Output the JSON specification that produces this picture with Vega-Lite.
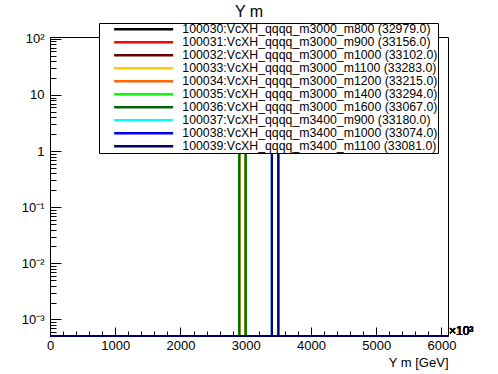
{
  "$schema": "https://vega.github.io/schema/vega-lite/v6.json",
  "autosize": {"type": "none"},
  "padding": {"left": 50, "top": 37, "right": 50, "bottom": 38},
  "width": 398,
  "height": 299,
  "background": "white",
  "config": {
    "font": "Liberation Sans",
    "view": {"stroke": "black", "strokeWidth": 1},
    "axis": {"grid": false, "labelColor": "black", "domainColor": "black", "tickColor": "black", "labelFontSize": 13, "labelOverlap": false, "labelFlush": false}
  },
  "title": {"text": "Y m", "fontSize": 16, "fontWeight": "normal", "anchor": "middle", "frame": "group", "baseline": "alphabetic", "offset": 7, "dy": 17, "color": "black"},
  "resolve": {"scale": {"x": "independent", "y": "independent"}, "axis": {"x": "independent", "y": "independent"}},
  "data": {"values": [
    {"s": "100030:VcXH_qqqq_m3000_m800 (32979.0)", "lo": 2900, "hi": 3000, "v": 1},
    {"s": "100031:VcXH_qqqq_m3000_m900 (33156.0)", "lo": 2900, "hi": 3000, "v": 1},
    {"s": "100032:VcXH_qqqq_m3000_m1000 (33102.0)", "lo": 2900, "hi": 3000, "v": 1},
    {"s": "100033:VcXH_qqqq_m3000_m1100 (33283.0)", "lo": 2900, "hi": 3000, "v": 1},
    {"s": "100034:VcXH_qqqq_m3000_m1200 (33215.0)", "lo": 2900, "hi": 3000, "v": 1},
    {"s": "100035:VcXH_qqqq_m3000_m1400 (33294.0)", "lo": 2900, "hi": 3000, "v": 1},
    {"s": "100036:VcXH_qqqq_m3000_m1600 (33067.0)", "lo": 2900, "hi": 3000, "v": 1},
    {"s": "100037:VcXH_qqqq_m3400_m900 (33180.0)", "lo": 3400, "hi": 3500, "v": 1},
    {"s": "100038:VcXH_qqqq_m3400_m1000 (33074.0)", "lo": 3400, "hi": 3500, "v": 1},
    {"s": "100039:VcXH_qqqq_m3400_m1100 (33081.0)", "lo": 3400, "hi": 3500, "v": 1}
  ]},
  "layer": [
    {
      "mark": {"type": "rect", "filled": false, "strokeWidth": 2},
      "encoding": {
        "x": {"field": "lo", "type": "quantitative",
          "scale": {"domain": [0, 6100], "nice": false, "zero": false},
          "axis": {
            "orient": "bottom",
            "values": [0, 1000, 2000, 3000, 4000, 5000, 6000],
            "format": "d",
            "tickSize": -9,
            "labelPadding": 12,
            "title": "Y m [GeV]",
            "titleAnchor": "end",
            "titleFontSize": 13,
            "titleFontWeight": "normal",
            "titleColor": "black",
            "titlePadding": 4
          }
        },
        "x2": {"field": "hi"},
        "y": {"field": "v", "type": "quantitative",
          "scale": {"type": "log", "domain": [0.000508, 108], "nice": false},
          "axis": {
            "orient": "left",
            "values": [0.001, 0.01, 0.1, 1, 10, 100],
            "labelExpr": "datum.value == 100 ? '10\u00b2' : datum.value == 10 ? '10' : datum.value == 1 ? '1' : datum.value == 0.1 ? '10\u207b\u00b9' : datum.value == 0.01 ? '10\u207b\u00b2' : '10\u207b\u00b3'",
            "tickSize": -11,
            "labelPadding": 17,
            "title": null
          }
        },
        "y2": {"datum": 0.000508},
        "color": {"field": "s", "type": "nominal",
          "scale": {
            "domain": ["100030:VcXH_qqqq_m3000_m800 (32979.0)", "100031:VcXH_qqqq_m3000_m900 (33156.0)", "100032:VcXH_qqqq_m3000_m1000 (33102.0)", "100033:VcXH_qqqq_m3000_m1100 (33283.0)", "100034:VcXH_qqqq_m3000_m1200 (33215.0)", "100035:VcXH_qqqq_m3000_m1400 (33294.0)", "100036:VcXH_qqqq_m3000_m1600 (33067.0)", "100037:VcXH_qqqq_m3400_m900 (33180.0)", "100038:VcXH_qqqq_m3400_m1000 (33074.0)", "100039:VcXH_qqqq_m3400_m1100 (33081.0)"],
            "range": ["#000000", "#ff0000", "#660000", "#ffcc00", "#ff6600", "#00ff00", "#006600", "#00ffff", "#0000ff", "#000066"]
          },
          "legend": {
            "orient": "none",
            "legendX": 49,
            "legendY": -14,
            "title": null,
            "padding": 0,
            "fillColor": "white",
            "strokeColor": "black",
            "symbolType": "M2.25,0H17",
            "symbolSize": 64,
            "symbolStrokeWidth": 2.5,
            "symbolFillColor": "transparent",
            "labelOffset": 71,
            "labelFontSize": 12.3,
            "labelColor": "black",
            "labelLimit": 0,
            "rowPadding": 0,
            "labelBaseline": "middle"
          }
        }
      }
    },
    {
      "mark": {"type": "rule", "color": "#000066", "strokeWidth": 2},
      "encoding": {"y": {"datum": 0.000508, "type": "quantitative",
          "scale": {"type": "log", "domain": [0.000508, 108], "nice": false},
          "axis": {
            "orient": "left",
            "values": [0.0006,0.0007,0.0008,0.0009,0.002,0.003,0.004,0.005,0.006,0.007,0.008,0.009,0.02,0.03,0.04,0.05,0.06,0.07,0.08,0.09,0.2,0.3,0.4,0.5,0.6,0.7,0.8,0.9,2,3,4,5,6,7,8,9,20,30,40,50,60,70,80,90],
            "labels": false,
            "domain": false,
            "tickSize": -6,
            "title": null
          }}}
    },
    {
      "mark": {"type": "text", "text": "\u00d710\u00b3", "align": "left", "baseline": "alphabetic", "fontSize": 12, "dx": 1, "dy": -1, "color": "black"},
      "encoding": {
        "x": {"datum": 6100, "type": "quantitative",
          "scale": {"domain": [0, 6100], "nice": false, "zero": false},
          "axis": {
            "orient": "bottom",
            "values": [200,400,600,800,1200,1400,1600,1800,2200,2400,2600,2800,3200,3400,3600,3800,4200,4400,4600,4800,5200,5400,5600,5800],
            "labels": false,
            "domain": false,
            "tickSize": -5,
            "title": null
          }},
        "y": {"datum": 0.000508, "type": "quantitative",
          "scale": {"type": "log", "domain": [0.000508, 108], "nice": false},
          "axis": null}
      }
    }
  ]
}
